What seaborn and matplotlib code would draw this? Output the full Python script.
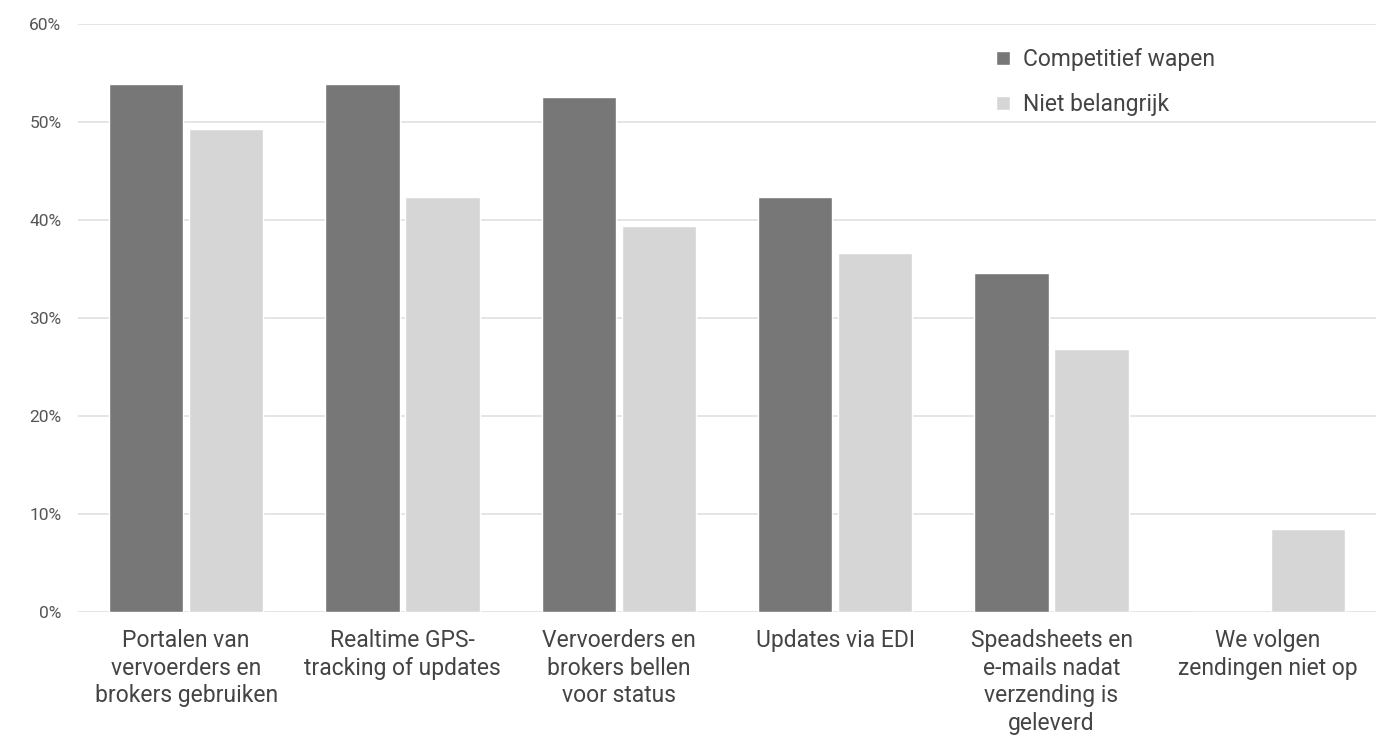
import pandas as pd
import seaborn as sns
import matplotlib.pyplot as plt
from matplotlib.ticker import PercentFormatter

categories = ['Portalen van\nvervoerders en\nbrokers gebruiken',
              'Realtime GPS-\ntracking of updates',
              'Vervoerders en\nbrokers bellen\nvoor status',
              'Updates via EDI',
              'Speadsheets en\ne-mails nadat\nverzending is\ngeleverd',
              'We volgen\nzendingen niet op']
competitief = [53.9, 53.9, 52.6, 42.3, 34.6, 0.0]
niet_belangrijk = [49.3, 42.3, 39.4, 36.6, 26.8, 8.5]
series_names = ['Competitief wapen', 'Niet belangrijk']

df = pd.DataFrame({
    'cat': categories * 2,
    'serie': [series_names[0]] * 6 + [series_names[1]] * 6,
    'val': [v / 100 for v in competitief + niet_belangrijk],
})

sns.set_theme(style='white')
plt.rcParams['font.family'] = ['Roboto', 'DejaVu Sans']
text_col = '#444444'

fig = plt.figure(figsize=(13.76, 7.46), dpi=100)
ax = fig.add_axes([0.0567, 0.1796, 0.9433, 0.7882])

sns.barplot(data=df, x='cat', y='val', hue='serie', order=categories,
            hue_order=series_names, palette=['#777777', '#d6d6d6'],
            width=0.74, gap=0.07, saturation=1, ax=ax, legend=True)

ax.set_ylim(0, 0.6)
ax.set_xlim(-0.5, 5.5)
ax.set_yticks([0, 0.1, 0.2, 0.3, 0.4, 0.5, 0.6])
ax.yaxis.set_major_formatter(PercentFormatter(1.0, decimals=0))
ax.grid(axis='y', color='#e0e0e0', linewidth=1.2)
ax.set_axisbelow(True)
for s in ax.spines.values():
    s.set_visible(False)
ax.set_xlabel('')
ax.set_ylabel('')
ax.tick_params(axis='y', labelsize=12.5, labelcolor='#555555', length=0, pad=12)
ax.tick_params(axis='x', labelsize=16.5, labelcolor=text_col, length=0, pad=12)
for lab in ax.get_xticklabels():
    lab.set_verticalalignment('top')
    lab.set_linespacing(1.27)

ax.legend(loc='upper left', bbox_to_anchor=(0.709, 0.963), bbox_transform=fig.transFigure,
          frameon=False, fontsize=16.5, handlelength=0.6, handleheight=0.6,
          handletextpad=0.55, labelspacing=0.95, labelcolor=text_col)

fig.savefig('out.png', dpi=100)
